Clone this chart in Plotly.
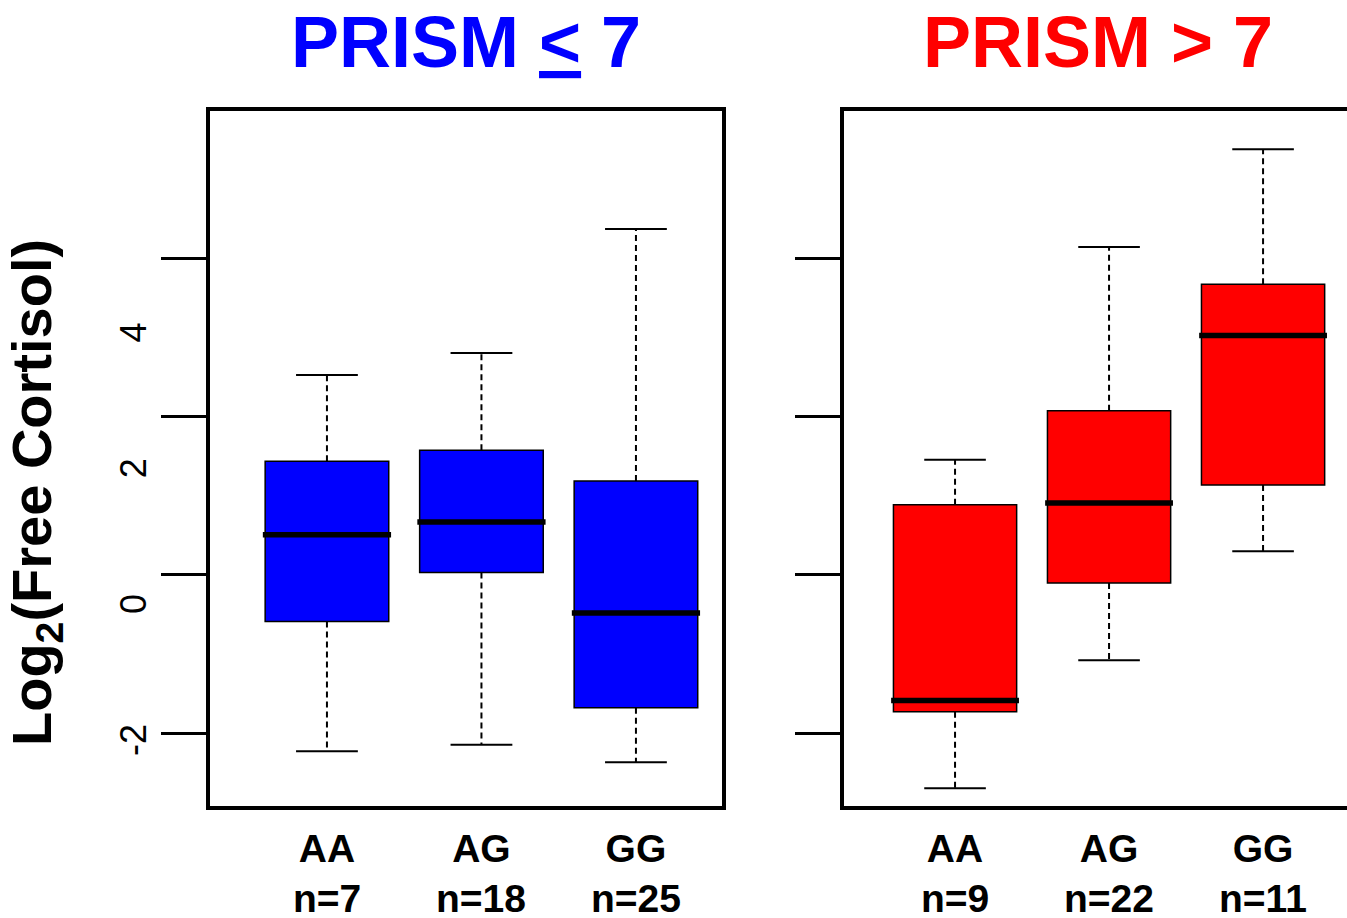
import plotly.graph_objects as go

# ---- data ----
genotypes = ["AA", "AG", "GG"]
positions = [1, 2, 3]

low_n = [7, 18, 25]
low_lower = [-2.23, -2.15, -2.37]
low_q1 = [-0.59, 0.03, -1.68]
low_median = [0.51, 0.67, -0.48]
low_q3 = [1.44, 1.58, 1.19]
low_upper = [2.53, 2.81, 4.38]

high_n = [9, 22, 11]
high_lower = [-2.70, -1.08, 0.30]
high_q1 = [-1.73, -0.10, 1.14]
high_median = [-1.59, 0.91, 3.03]
high_q3 = [0.89, 2.08, 3.68]
high_upper = [1.46, 4.15, 5.39]

y_ticks = [-2, 0, 2, 4]
y_tick_labels = ["-2", "0", "2", "4"]

FONT = "Liberation Sans, Arial, Helvetica, sans-serif"
BOX_W = 0.8
CAP_W = 0.4

fig = go.Figure()


def add_panel(xaxis, yaxis, lower, q1, med, q3, upper, color):
    for i, p in enumerate(positions):
        fig.add_trace(go.Box(
            x=[p], q1=[q1[i]], median=[med[i]], q3=[q3[i]],
            lowerfence=[q1[i]], upperfence=[q3[i]],
            width=BOX_W, fillcolor=color,
            line=dict(color="black", width=1.5),
            whiskerwidth=0, boxpoints=False,
            xaxis=xaxis, yaxis=yaxis, showlegend=False, hoverinfo="skip",
        ))
    # dashed whiskers
    wx, wy = [], []
    for i, p in enumerate(positions):
        wx += [p, p, None, p, p, None]
        wy += [q3[i], upper[i], None, q1[i], lower[i], None]
    fig.add_trace(go.Scatter(x=wx, y=wy, mode="lines",
                             line=dict(color="black", width=2, dash="6px,4px"),
                             xaxis=xaxis, yaxis=yaxis, showlegend=False, hoverinfo="skip"))
    # whisker caps
    cx, cy = [], []
    for i, p in enumerate(positions):
        cx += [p - CAP_W / 2, p + CAP_W / 2, None, p - CAP_W / 2, p + CAP_W / 2, None]
        cy += [upper[i], upper[i], None, lower[i], lower[i], None]
    fig.add_trace(go.Scatter(x=cx, y=cy, mode="lines",
                             line=dict(color="black", width=2),
                             xaxis=xaxis, yaxis=yaxis, showlegend=False, hoverinfo="skip"))
    # thick medians
    mx, my = [], []
    for i, p in enumerate(positions):
        mx += [p - BOX_W / 2 - 0.015, p + BOX_W / 2 + 0.015, None]
        my += [med[i], med[i], None]
    fig.add_trace(go.Scatter(x=mx, y=my, mode="lines",
                             line=dict(color="black", width=5.5),
                             xaxis=xaxis, yaxis=yaxis, showlegend=False, hoverinfo="skip"))


add_panel("x", "y", low_lower, low_q1, low_median, low_q3, low_upper, "#0000FF")
add_panel("x2", "y2", high_lower, high_q1, high_median, high_q3, high_upper, "#FF0000")

W, H = 1347, 918
yr = [-2.924, 5.873]
# the reference's tick numbers sit on a slightly compressed scale relative to the tick marks
label_range = [-2.894, 7.342]
ydom = [(H - 806) / H, (H - 111) / H]

common_x = dict(tickmode="array", tickvals=positions, ticktext=genotypes,
                showgrid=False, zeroline=False, showline=True, linecolor="black",
                linewidth=4, mirror=True, ticks="",
                tickfont=dict(family=FONT, size=39, color="black", weight="bold"),
                ticklabelstandoff=5)
common_y = dict(range=yr, tickmode="array", tickvals=y_ticks,
                showgrid=False, zeroline=False, showline=True, linecolor="black",
                linewidth=4, ticks="outside", ticklen=45, tickwidth=3, tickcolor="black")

fig.update_layout(
    width=W, height=H,
    margin=dict(l=0, r=0, t=0, b=0),
    paper_bgcolor="white", plot_bgcolor="white",
    xaxis=dict(domain=[210 / W, 722 / W], range=[0.243, 3.557], **common_x),
    xaxis2=dict(domain=[844 / W, 1.0], range=[0.279, 3.545], anchor="y2", **common_x),
    yaxis=dict(domain=ydom, anchor="x", mirror=True, showticklabels=False, **common_y),
    yaxis2=dict(domain=ydom, anchor="x2", mirror=False, showticklabels=False, **common_y),
    yaxis3=dict(domain=ydom, anchor="x", overlaying="y", side="left",
                range=label_range, tickmode="array", tickvals=y_ticks,
                ticktext=y_tick_labels,
                showgrid=False, zeroline=False, showline=False, ticks="",
                showticklabels=True, tickangle=-90, ticklabelstandoff=56,
                tickfont=dict(family=FONT, size=36, color="black")),
)
# invisible trace so the label axis is drawn
fig.add_trace(go.Scatter(x=[positions[0]], y=[y_ticks[0]], xaxis="x", yaxis="y3",
                         mode="markers", marker=dict(opacity=0), showlegend=False,
                         hoverinfo="skip"))

annotations = []
# n= labels under each genotype
for xr, ns in (("x", low_n), ("x2", high_n)):
    for p, n in zip(positions, ns):
        annotations.append(dict(x=p, xref=xr, y=(H - 898) / H, yref="paper",
                                text=f"n={n}", showarrow=False, xanchor="center", yanchor="middle",
                                font=dict(family=FONT, size=39, color="black", weight="bold")))
# panel titles
annotations.append(dict(x=466 / W, y=(H - 42) / H, xref="paper", yref="paper",
                        text="PRISM <u>&lt;</u> 7", showarrow=False,
                        xanchor="center", yanchor="middle",
                        font=dict(family=FONT, size=72, color="#0000FF", weight="bold")))
annotations.append(dict(x=1098 / W, y=(H - 42) / H, xref="paper", yref="paper",
                        text="PRISM &gt; 7", showarrow=False,
                        xanchor="center", yanchor="middle",
                        font=dict(family=FONT, size=72, color="#FF0000", weight="bold")))
# y axis title
annotations.append(dict(x=36 / W, y=(H - 493) / H, xref="paper", yref="paper",
                        text="Log<sub>2</sub>(Free Cortisol)", showarrow=False, textangle=-90,
                        xanchor="center", yanchor="middle",
                        font=dict(family=FONT, size=56, color="black", weight="bold")))
fig.update_layout(annotations=annotations)

fig.write_html("out.html", config={"displayModeBar": False},
               post_script="document.body.style.margin='0';document.body.style.overflow='hidden';")
